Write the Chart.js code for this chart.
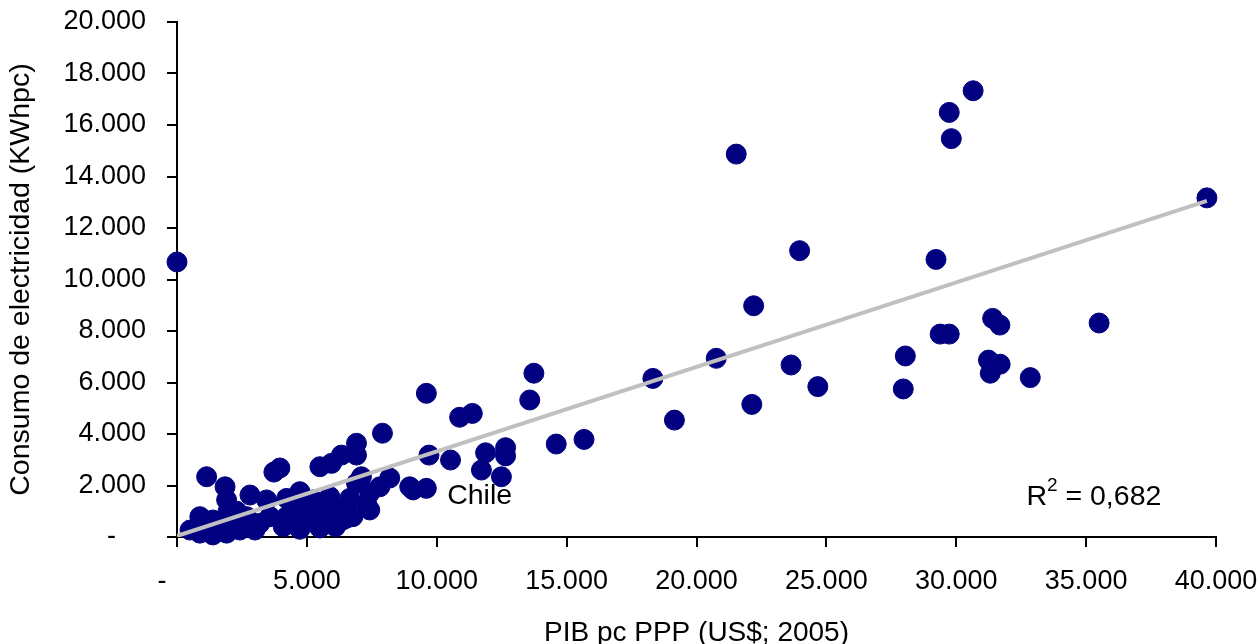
<!DOCTYPE html>
<html>
<head>
<meta charset="utf-8">
<script src="https://cdn.jsdelivr.net/npm/chart.js@4.4.1/dist/chart.umd.min.js"></script>
<style>
  html, body { margin: 0; padding: 0; background: #fff; }
</style>
</head>
<body>
<canvas id="grafico" width="1260" height="644"></canvas>
<script>
// PIB per cápita PPP (US$ 2005) y consumo eléctrico (kWh per cápita)
const pibPc = [
  30650, 29730, 29810, 21530, 23970, 29220, 22200, 20760, 18320, 23640,
  24670, 22130, 19150, 28040, 27960, 29380, 29730, 31400, 31680, 31240,
  31690, 31310, 32850, 39650, 35500, 0, 9600, 10880, 11370, 13740,
  13580, 14600, 15670, 9700, 10530, 11880, 12650, 12650, 11720, 12490,
  9090, 9600, 7910, 6910, 6910, 6330, 5950, 5500, 7100, 8190,
  8960, 7420, 7810, 4220, 4730, 5230, 5880, 6650, 7300, 4220,
  4850, 5500, 6270, 6770, 7420, 5110, 6380, 1140, 1850, 1910,
  1960, 2040, 3730, 3960, 2810, 3450, 880, 500, 880, 1380,
  1910, 2680, 3190, 3580, 4090, 2420, 4730, 5760, 5880, 6530,
  6530, 6910, 1380, 3000, 4730, 5500, 6100, 2300
];
const consumo = [
  17330, 16490, 15470, 14870, 11120, 10780, 8980, 6940, 6160, 6680,
  5840, 5150, 4540, 7030, 5750, 7880, 7880, 8490, 8230, 6870,
  6710, 6360, 6190, 13170, 8310, 10680, 5580, 4650, 4800, 6360,
  5320, 3610, 3790, 3180, 2990, 3270, 3470, 3150, 2600, 2340,
  1830, 1890, 4030, 3640, 3180, 3180, 2860, 2730, 2340, 2290,
  1950, 1710, 1950, 1500, 1760, 1440, 1570, 1500, 1310, 790,
  660, 790, 930, 790, 1050, 1180, 660, 2340, 1950, 1440,
  980, 530, 2520, 2680, 1630, 1440, 790, 270, 150, 80,
  150, 790, 530, 790, 400, 270, 1180, 920, 1310, 1180,
  730, 2090, 660, 270, 300, 350, 400, 1000
];

// línea de tendencia lineal (extremos)
const tendenciaX = [0, 39650];
const tendenciaY = [40, 13050];

const etiquetasX = ['-    ', '5.000', '10.000', '15.000', '20.000', '25.000', '30.000', '35.000', '40.000'];
const etiquetasY = ['-    ', '2.000', '4.000', '6.000', '8.000', '10.000', '12.000', '14.000', '16.000', '18.000', '20.000'];

const textoR2 = { base: 'R', sup: '2', resto: ' = 0,682', x: 32700, y: 1550 };
const textoChile = { texto: 'Chile', x: 10400, y: 1600 };

const FUENTE = '"Liberation Sans", Arial, sans-serif';
Chart.defaults.font.family = FUENTE;
Chart.defaults.color = '#000';

const anotaciones = {
  id: 'anotaciones',
  afterDatasetsDraw(chart) {
    const { ctx, scales: { x, y } } = chart;
    ctx.save();
    ctx.fillStyle = '#000';
    ctx.textBaseline = 'middle';
    ctx.textAlign = 'left';
    ctx.font = '28.5px ' + FUENTE;
    ctx.fillText(textoChile.texto, x.getPixelForValue(textoChile.x), y.getPixelForValue(textoChile.y));

    let px = x.getPixelForValue(textoR2.x);
    const py = y.getPixelForValue(textoR2.y);
    ctx.fillText(textoR2.base, px, py);
    px += ctx.measureText(textoR2.base).width;
    ctx.font = '19px ' + FUENTE;
    ctx.fillText(textoR2.sup, px, py - 11);
    px += ctx.measureText(textoR2.sup).width;
    ctx.font = '28.5px ' + FUENTE;
    ctx.fillText(textoR2.resto, px, py);
    ctx.restore();
  }
};

new Chart(document.getElementById('grafico'), {
  type: 'scatter',
  data: {
    datasets: [
      {
        type: 'line',
        data: tendenciaX.map((v, i) => ({ x: v, y: tendenciaY[i] })),
        borderColor: '#c0c0c0',
        borderWidth: 4,
        pointRadius: 0,
        fill: false,
        order: 0
      },
      {
        data: pibPc.map((v, i) => ({ x: v, y: consumo[i] })),
        backgroundColor: '#000080',
        borderColor: '#000080',
        borderWidth: 1,
        pointRadius: 10,
        clip: false,
        order: 1
      }
    ]
  },
  options: {
    responsive: false,
    animation: false,
    layout: { padding: { top: 22, right: 44, bottom: 0, left: 0 } },
    plugins: { legend: { display: false }, tooltip: { enabled: false } },
    scales: {
      x: {
        type: 'linear',
        min: 0,
        max: 40000,
        afterFit(s) { s.height = 107; s.paddingLeft = 0; s.paddingRight = 0; },
        ticks: {
          stepSize: 5000,
          font: { size: 27 },
          padding: 18,
          maxRotation: 0,
          callback: (v, i) => etiquetasX[i]
        },
        grid: { drawOnChartArea: false, drawTicks: true, tickLength: 10, color: '#000', lineWidth: 2 },
        border: { display: true, color: '#000', width: 2 },
        title: {
          display: true,
          text: 'PIB pc PPP (US$; 2005)',
          font: { size: 28, lineHeight: 1 },
          padding: { top: 0, bottom: -3 }
        }
      },
      y: {
        type: 'linear',
        min: 0,
        max: 20000,
        afterFit(s) { s.width = 177; s.paddingTop = 0; s.paddingBottom = 0; },
        ticks: {
          stepSize: 2000,
          font: { size: 27 },
          padding: 21,
          callback: (v, i) => etiquetasY[i]
        },
        grid: { drawOnChartArea: false, drawTicks: true, tickLength: 10, color: '#000', lineWidth: 2 },
        border: { display: true, color: '#000', width: 2 },
        title: {
          display: true,
          text: 'Consumo de electricidad (KWhpc)',
          font: { size: 28.5, lineHeight: 1 },
          padding: { top: 7, bottom: 0 }
        }
      }
    }
  },
  plugins: [anotaciones]
});
</script>
</body>
</html>
